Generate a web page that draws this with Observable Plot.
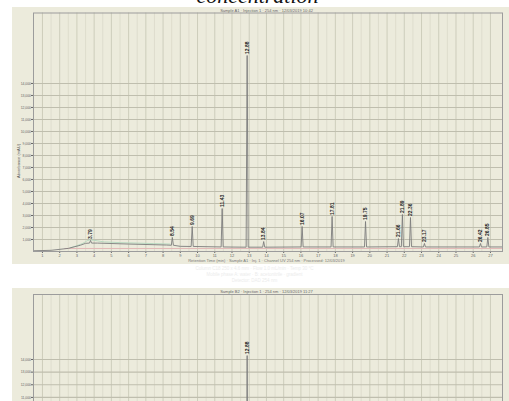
<!DOCTYPE html>
<html>
<head>
<meta charset="utf-8">
<script src="https://cdn.jsdelivr.net/npm/d3@7"></script>
<script src="https://cdn.jsdelivr.net/npm/@observablehq/plot@0.6"></script>
<style>
  html, body { margin: 0; padding: 0; background: #ffffff; }
  body { width: 509px; height: 401px; overflow: hidden; position: relative; font-family: "Liberation Sans", sans-serif; }
  .panel { position: absolute; left: 12px; width: 497px; background: #ecebdc; overflow: hidden; }
  .ptitle { position: absolute; left: 0; width: 100%; text-align: center; font-size: 4px; color: #666; white-space: nowrap; }
  .xlabel { position: absolute; left: 0; width: 100%; text-align: center; font-size: 4px; color: #777; white-space: nowrap; }
  .ylabel { position: absolute; font-size: 4px; line-height: 4px; color: #555; white-space: nowrap; transform: rotate(-90deg); transform-origin: center; }
  .heading { position: absolute; left: 0; top: -15px; width: 509px; text-align: center; font: italic 22px/22px "Liberation Serif", serif; color: #111; padding-left: 6px; box-sizing: border-box; }
  .note { position: absolute; left: 0; width: 509px; text-align: center; font-size: 4.5px; line-height: 5px; color: #ececec; white-space: nowrap; }
  svg { display: block; }
  .yax text { font-size: 3.4px; }
</style>
</head>
<body>
<div class="heading">concentration</div>

<div class="panel" id="p1" style="top:7px;height:257px;">
  <div class="ptitle" style="top:1px;padding-left:6px;">Sample A1 · Injection 1 · 254 nm · 12/03/2019 10:42</div>
  <div class="ylabel" style="left:-10px;top:152px;">Absorbance (mAU)</div>
  <div class="xlabel" style="top:251px;padding-left:6px;">Retention Time (min) · Sample A1 · Inj. 1 · Channel UV 254 nm · Processed: 12/03/2019</div>
</div>

<div class="note" style="top:266px;">Column C18 250 x 4.6 mm · Flow 1.0 mL/min · Temp 30 °C</div>
<div class="note" style="top:272px;">Mobile phase A: water · B: acetonitrile · gradient</div>
<div class="note" style="top:278px;">Detector: DAD 254 nm</div>

<div class="panel" id="p2" style="top:288px;height:261px;">
  <div class="ptitle" style="top:1px;padding-left:6px;">Sample B2 · Injection 1 · 254 nm · 12/03/2019 11:27</div>
</div>

<script>
// Retention-time axis (min) and absorbance axis (mAU)
const xTicks = d3.range(1, 28);
const xMinor = d3.range(1.5, 27.5, 1);
const yTicks = [1000, 2000, 3000, 4000, 5000, 6000, 7000, 8000, 9000, 10000, 11000, 12000, 13000, 14000];

// Run 1: integrated peaks
const retentionTimes = [3.79, 8.54, 9.69, 11.43, 12.88, 13.84, 16.07, 17.81, 19.75, 21.66, 21.89, 22.36, 23.17, 26.42, 26.85];
const peakHeights   = [920, 1170, 2080, 3580, 16330, 830, 2080, 2920, 2500, 1080, 3080, 2830, 670, 670, 1170];
const peakFeet      = [700, 520, 420, 380, 360, 360, 380, 380, 380, 400, 400, 400, 380, 380, 380];

// Run 1: detector baseline drift
const baseTimes  = [0.48, 1.5, 2.5, 3.2, 3.5, 4.2, 6.0, 8.2, 9.0, 12.0, 20.0, 27.7];
const baseLevels = [60, 100, 260, 520, 680, 700, 620, 540, 430, 370, 380, 380];

// Run 1: reference channel and blank overlays
const refTimes  = [2.3, 27.7];
const refLevels = [250, 250];
const blankTimes  = [2.6, 3.3, 3.75, 4.6, 6.5, 8.4];
const blankLevels = [300, 650, 960, 800, 700, 620];

// Run 2: integrated peaks
const retentionTimes2 = [12.88];
const peakHeights2    = [14310];
const peakFeet2       = [360];
const baseTimes2  = [0.48, 27.7];
const baseLevels2 = [360, 360];

const peakHalfWidth = 0.06;

function trace(bt, bl, rt, ph, pf) {
  const pts = bt.map((t, i) => ({t, v: bl[i]}));
  rt.forEach((t, i) => {
    pts.push({t: t - peakHalfWidth, v: pf[i]});
    pts.push({t, v: ph[i]});
    pts.push({t: t + peakHalfWidth, v: pf[i]});
  });
  return pts.sort((a, b) => a.t - b.t);
}
const pairs = (ts, vs) => ts.map((t, i) => ({t, v: vs[i]}));
const peaks = (ts, hs) => ts.map((t, i) => ({t, v: hs[i], label: t.toFixed(2)}));

function chromatogram({height, marginTop, yMax, line, overlays, labels}) {
  return Plot.plot({
    width: 497,
    height,
    marginLeft: 21,
    marginRight: 7,
    marginTop,
    marginBottom: 13,
    style: {background: "transparent", fontFamily: "Liberation Sans", fontSize: "4px", color: "#666", overflow: "visible"},
    x: {domain: [0.48, 27.7], ticks: xTicks, tickSize: 2, tickPadding: 1, label: null},
    y: {domain: [0, yMax], ticks: yTicks, tickSize: 2, tickPadding: 0.5, label: null, tickFormat: d3.format(",")},
    marks: [
      Plot.ruleX(xMinor, {stroke: "#dad9c9", strokeWidth: 0.8}),
      Plot.ruleX(xTicks, {stroke: "#cac9b8", strokeWidth: 0.9}),
      Plot.ruleY(yTicks, {stroke: "#bfbeae", strokeWidth: 1.1}),
      ...overlays,
      Plot.line(line, {x: "t", y: "v", stroke: "#7d7d7d", strokeWidth: 0.9}),
      Plot.text(labels, {x: "t", y: "v", text: "label", rotate: -90, textAnchor: "start", dy: -1.5,
        fontSize: 5, fontWeight: "bold", fill: "#222"}),
      Plot.frame({stroke: "#9c9c9c"})
    ]
  });
}

function mount(id, opts) {
  const svg = chromatogram(opts);
  // tag the y-axis group so its labels can be set smaller
  svg.querySelectorAll("g[aria-label='y-axis tick label']").forEach(g => g.classList.add("yax"));
  document.getElementById(id).appendChild(svg);
}

mount("p1", {
  height: 257,
  marginTop: 5.5,
  yMax: 19870,
  line: trace(baseTimes, baseLevels, retentionTimes, peakHeights, peakFeet),
  overlays: [
    Plot.line(pairs(refTimes, refLevels), {x: "t", y: "v", stroke: "#e2b3b3", strokeWidth: 0.9}),
    Plot.line(pairs(blankTimes, blankLevels), {x: "t", y: "v", stroke: "#b3d8bd", strokeWidth: 0.9, curve: "monotone-x"})
  ],
  labels: peaks(retentionTimes, peakHeights)
});

mount("p2", {
  height: 261,
  marginTop: 6,
  yMax: 19140,
  line: trace(baseTimes2, baseLevels2, retentionTimes2, peakHeights2, peakFeet2),
  overlays: [],
  labels: peaks(retentionTimes2, peakHeights2)
});
</script>
</body>
</html>
